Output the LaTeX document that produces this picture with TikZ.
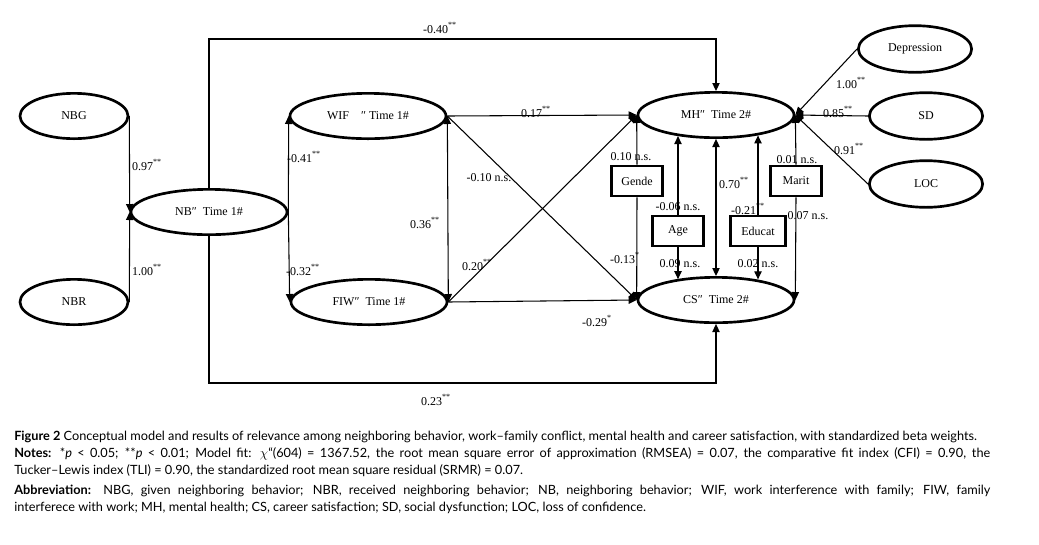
\documentclass[tikz,border=0pt]{standalone}
\usepackage{fontspec}
\setmainfont{Liberation Serif}
\newfontfamily\capfont{Lato}
\usetikzlibrary{shapes.geometric, arrows.meta, positioning, calc}

\begin{document}
\begin{tikzpicture}[
    x=0.75pt, y=-0.75pt,
    font=\fontsize{9}{10}\selectfont,
    latent/.style={ellipse, draw, line width=2pt, minimum width=117pt, minimum height=34pt, inner sep=0pt},
    indicator/.style={latent, minimum width=85pt, minimum height=35pt},
    control/.style={rectangle, draw, line width=2pt, minimum width=38pt, minimum height=22.5pt, inner sep=0pt},
    arrow/.style={-{Triangle[length=6pt,width=5.5pt]}, line width=0.8pt},
    dblarrow/.style={{Triangle[length=6pt,width=5.5pt]}-{Triangle[length=6pt,width=5.5pt]}, line width=0.8pt},
    coef/.style={inner sep=1pt},
    caption/.style={font=\capfont\fontsize{9.55}{12.75}\selectfont, text width=732pt, align=justify, inner sep=0pt}
]
    \useasboundingbox (0,0) rectangle (1039,544);

    % Latent variables
    \node [latent, minimum width=81pt] (nbg) at (74,116) {NBG};
    \node [latent] (nb) at (209,212) {NB″\ \ Time 1\#};
    \node [latent, minimum width=81pt] (nbr) at (74,302) {NBR};
    \node [latent] (wif) at (368,116) {WIF\quad ″\ Time 1\#};
    \node [latent] (fiw) at (369,302) {FIW″\ \ Time 1\#};
    \node [latent] (mh) at (716,115) {MH″\ \ Time 2\#};
    \node [latent] (cs) at (716,300) {CS″\ \ Time 2\#};

    % Indicators of MH
    \node [indicator] (dep) at (915,49) {Depression};
    \node [indicator] (sd) at (926,116) {SD};
    \node [indicator] (loc) at (926,184) {LOC};

    % Control variables
    \node [control] (gende) at (637,181) {Gende};
    \node [control] (marit) at (796,181) {Marit};
    \node [control] (age) at (678,231) {Age};
    \node [control, minimum width=41.5pt] (educat) at (758,231) {Educat};

    % Measurement of NB
    \draw [arrow] (nbg.east) -- (nb.west);
    \draw [arrow] (nbr.east) -- (nb.west);

    % NB paths
    \draw [arrow] (nb.east) -- (wif.west);
    \draw [arrow] (nb.east) -- (fiw.west);
    \draw [dblarrow] (wif.east) -- (fiw.east);
    \draw [arrow] (nb.north) -- ++(0,-149) -| (mh.north);
    \draw [arrow] (nb.south) -- ++(0,147) -| (cs.south);

    % WIF and FIW paths
    \draw [arrow] (wif.east) -- (mh.west);
    \draw [arrow] (wif.east) -- (cs.west);
    \draw [arrow] (fiw.east) -- (mh.west);
    \draw [arrow] (fiw.east) -- (cs.west);

    % Controls
    \draw [arrow] (gende.north) -- (mh.west);
    \draw [arrow] (gende.south) -- (cs.west);
    \draw [arrow] (marit.north) -- (mh.east);
    \draw [arrow] (marit.south) -- (cs.east);
    \draw [arrow] (age.north) -- (age.north |- mh.209);
    \draw [arrow] (age.south) -- (age.south |- cs.152);
    \draw [arrow] (educat.north) -- (educat.north |- mh.334);
    \draw [arrow] (educat.south) -- (educat.south |- cs.27);
    \draw [dblarrow] (mh.south) -- (cs.north);

    % Indicators to MH
    \draw [arrow] (dep.west) -- (mh.east);
    \draw [arrow] (sd.west) -- (mh.east);
    \draw [arrow] (loc.west) -- (mh.east);

    % Coefficients
    \node [coef] (c-nbg) at (147,165) {0.97\textsuperscript{**}};
    \node [coef] (c-nbr) at (147,270) {1.00\textsuperscript{**}};
    \node [coef] (c-nb-wif) at (304,157) {-0.41\textsuperscript{**}};
    \node [coef] (c-nb-fiw) at (303,270) {-0.32\textsuperscript{**}};
    \node [coef] (c-wif-fiw) at (425,223) {0.36\textsuperscript{**}};
    \node [coef] (c-nb-mh) at (440,28) {-0.40\textsuperscript{**}};
    \node [coef] (c-nb-cs) at (436,400) {0.23\textsuperscript{**}};
    \node [coef] (c-wif-mh) at (536,112) {0.17\textsuperscript{**}};
    \node [coef] (c-wif-cs) at (489,178) {-0.10 n.s.};
    \node [coef] (c-fiw-mh) at (477,265) {0.20\textsuperscript{**}};
    \node [coef] (c-fiw-cs) at (597,321) {-0.29\textsuperscript{*}};
    \node [coef] (c-gende-mh) at (631,157) {0.10 n.s.};
    \node [coef] (c-gende-cs) at (625,258) {-0.13\textsuperscript{*}};
    \node [coef] (c-age-mh) at (678,207) {-0.06 n.s.};
    \node [coef] (c-age-cs) at (680,264) {0.09 n.s.};
    \node [coef] (c-mh-cs) at (734,183) {0.70\textsuperscript{**}};
    \node [coef] (c-educat-mh) at (748,209) {-0.21\textsuperscript{**}};
    \node [coef] (c-educat-cs) at (758,264) {0.02 n.s.};
    \node [coef] (c-marit-mh) at (797,160) {0.01 n.s.};
    \node [coef] (c-marit-cs) at (808,216) {0.07 n.s.};
    \node [coef] (c-dep) at (851,83) {1.00\textsuperscript{**}};
    \node [coef] (c-sd) at (838,112) {0.85\textsuperscript{**}};
    \node [coef] (c-loc) at (849,149) {0.91\textsuperscript{**}};

    % Caption
    \node [caption, anchor=north west] (cap) at (14,431) {\textbf{Figure 2} Conceptual model and results of relevance among neighboring behavior, work–family conflict, mental health and career satisfaction, with standardized beta weights.\par
    \textbf{Notes:} *\textit{p} < 0.05; **\textit{p} < 0.01; Model fit: $\chi$“(604) = 1367.52, the root mean square error of approximation (RMSEA) = 0.07, the comparative fit index (CFI) = 0.90, the\linebreak Tucker–Lewis index (TLI) = 0.90, the standardized root mean square residual (SRMR) = 0.07.\par\vspace{2.25pt}
    \textbf{Abbreviation:} NBG, given neighboring behavior; NBR, received neighboring behavior; NB, neighboring behavior; WIF, work interference with family; FIW, family\linebreak interferece with work; MH, mental health; CS, career satisfaction; SD, social dysfunction; LOC, loss of confidence.};
\end{tikzpicture}
\end{document}
